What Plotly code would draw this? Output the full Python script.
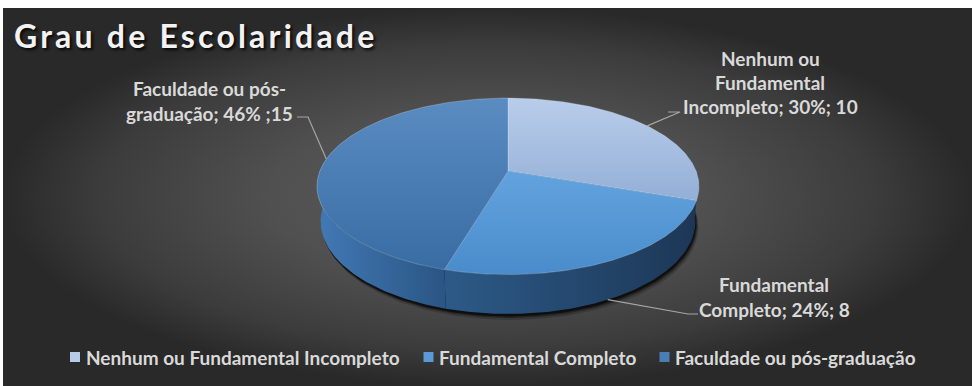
import numpy as np
import plotly.graph_objects as go

# ---- data -------------------------------------------------------------
categories = ["Nenhum ou Fundamental Incompleto", "Fundamental Completo", "Faculdade ou pós-graduação"]
counts = [10, 8, 15]
label_lines = [
    ["Nenhum ou", "Fundamental", "Incompleto; 30%; 10"],
    ["Fundamental", "Completo; 24%; 8"],
    ["Faculdade ou pós-", "graduação; 46% ;15"],
]
title_text = "Grau de Escolaridade"

# ---- styling ----------------------------------------------------------
W, H_PX = 972, 386
# vertical gradients: value 0 = bottom of the face, 1 = top
top_scales = [
    [[0, "#93afd7"], [1, "#b9cdea"]],
    [[0, "#4a8bcb"], [1, "#62a3df"]],
    [[0, "#386ca3"], [1, "#5a8cc2"]],
]
side_scales = [
    [[0, "#27496f"], [1, "#1f3b5c"]],
    [[0, "#2c5a88"], [1, "#1d3756"]],
    [[0, "#4279b5"], [1, "#2a5584"]],
]
legend_colors = ["#b7cbe8", "#5b9bd5", "#4a7db4"]
label_color = "#d9d9d9"
FONT = "Lato"

# ---- 3D pie projection (perspective camera) ---------------------------
SIN_T = 0.455
COS_T = np.sqrt(1 - SIN_T ** 2)
DIST, FOCAL = 5.13, 965.0
CX, CY = 508.0, 171.0
THICK = 0.21


def proj(theta_deg, z):
    t = np.radians(theta_deg)
    x, y = np.sin(t), np.cos(t)
    d = DIST + y * COS_T - z * SIN_T
    return CX + x * FOCAL / d, CY - (y * SIN_T + z * COS_T) * FOCAL / d


def arc(a0, a1, z, n=None):
    n = n or max(8, int(abs(a1 - a0) * 1.5))
    th = np.linspace(a0, a1, n)
    return proj(th, z)


total = sum(counts)
bounds = np.concatenate([[0], np.cumsum(counts) / total * 360.0])
mids = (bounds[:-1] + bounds[1:]) / 2

fig = go.Figure()

# background panel with radial shading
fig.add_trace(go.Scatter(
    x=[3, W, W, 3, 3], y=[8, 8, H_PX, H_PX, 8], mode="lines", fill="toself",
    line=dict(width=0), fillcolor="#444444",
    fillgradient=dict(type="radial", colorscale=[[0, "#5c5c5c"], [0.45, "#505050"],
                                                 [0.8, "#3c3c3c"], [1, "#292929"]]),
    hoverinfo="skip", showlegend=False,
))

# soft shadow below the pie
for dx, dy, alpha in [(3, 6, 0.18), (2, 4, 0.35), (1, 2.5, 0.6)]:
    sx, sy = arc(0, 360, -THICK, 240)
    fig.add_trace(go.Scatter(
        x=sx + dx, y=sy + dy, mode="lines", fill="toself", line=dict(width=0),
        fillcolor=f"rgba(0,0,0,{alpha})", hoverinfo="skip", showlegend=False,
    ))

# visible side walls (front half of the cylinder)
for i in range(len(counts)):
    lo, hi = max(bounds[i], 60.0), min(bounds[i + 1], 300.0)
    if hi <= lo:
        continue
    tx, ty = arc(lo, hi, 0)
    bx, by = arc(hi, lo, -THICK)
    fig.add_trace(go.Scatter(
        x=np.concatenate([tx, bx, tx[:1]]), y=np.concatenate([ty, by, ty[:1]]),
        mode="lines", fill="toself", line=dict(width=0), fillcolor=side_scales[i][0][1],
        fillgradient=dict(type="horizontal", colorscale=side_scales[i]),
        hoverinfo="skip", showlegend=False,
    ))

# top faces
for i in range(len(counts)):
    ax_, ay_ = arc(bounds[i], bounds[i + 1], 0)
    xs = np.concatenate([[CX], ax_, [CX]])
    ys = np.concatenate([[CY], ay_, [CY]])
    fig.add_trace(go.Scatter(
        x=xs, y=ys, mode="lines", fill="toself",
        line=dict(width=0.8, color="rgba(220,235,255,0.35)"), fillcolor=top_scales[i][0][1],
        fillgradient=dict(type="vertical", colorscale=top_scales[i]),
        hoverinfo="skip", showlegend=False,
    ))

# data labels with leader lines
label_pos = [(770, [58, 82, 106]), (774, [284, 309]), (209, [88, 113])]
elbows = [((680, 112), (668, 112)), ((688, 314), (698, 314)), ((308, 117), (297, 117))]
anchor_z = [0, -THICK, 0]
for i in range(len(counts)):
    px, py = proj(mids[i], anchor_z[i])
    (ex, ey), (fx, fy) = elbows[i]
    fig.add_trace(go.Scatter(
        x=[px, ex, fx], y=[py, ey, fy], mode="lines",
        line=dict(color="#a6a6a6", width=1.2), hoverinfo="skip", showlegend=False,
    ))
    cxl, ys = label_pos[i]
    for line, yy in zip(label_lines[i], ys):
        fig.add_annotation(
            x=cxl, y=yy, text=f"<b>{line}</b>", showarrow=False,
            xanchor="center", yanchor="middle",
            font=dict(family=FONT, size=19, color=label_color),
        )

# legend
leg_sq_x = [75, 428.5, 664.5]
leg_txt_x = [84, 437, 673]
LEG_Y = 357
fig.add_trace(go.Scatter(
    x=leg_sq_x, y=[LEG_Y] * 3, mode="markers",
    marker=dict(symbol="square", size=10, color=legend_colors, line=dict(width=0)),
    hoverinfo="skip", showlegend=False,
))
for name, tx in zip(categories, leg_txt_x):
    fig.add_annotation(
        x=tx, y=LEG_Y, text=f"<b>{name}</b>", showarrow=False,
        xanchor="left", yanchor="middle",
        font=dict(family=FONT, size=19, color=label_color),
    )

# title
fig.add_annotation(
    x=12, y=35, text=f"<span style='letter-spacing:3.2px'><b>{title_text}</b></span>",
    showarrow=False, xanchor="left", yanchor="middle",
    font=dict(family=FONT, size=32, color="#f2f2f2",
              shadow="2px 2px 3px rgba(0,0,0,0.85)"),
)

fig.update_xaxes(range=[0, W], visible=False, fixedrange=True)
fig.update_yaxes(range=[H_PX, 0], visible=False, fixedrange=True)
fig.update_layout(
    width=W, height=H_PX, margin=dict(l=0, r=0, t=0, b=0),
    paper_bgcolor="white", plot_bgcolor="white", showlegend=False,
)

fig.write_html("out.html")
